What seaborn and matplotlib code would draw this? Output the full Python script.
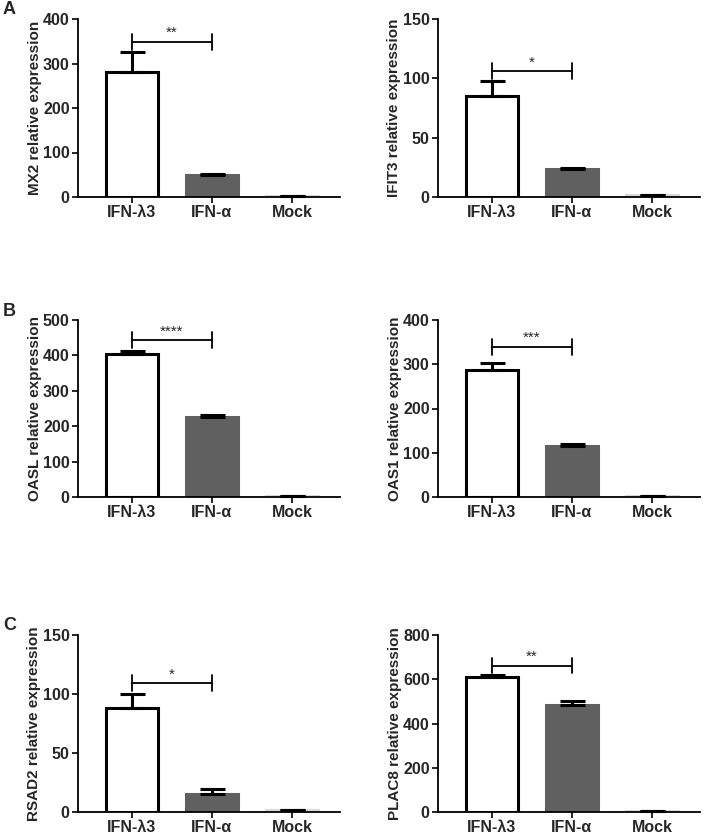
import matplotlib
matplotlib.use("Agg")
import pandas as pd
import seaborn as sns
from matplotlib import pyplot as plt

groups = ["IFN-λ3", "IFN-α", "Mock"]

mx2_mean = [280, 50, 2]
mx2_sem = [45, 2, 0.5]
ifit3_mean = [85, 23.5, 1.5]
ifit3_sem = [12.5, 1, 0.5]
oasl_mean = [405, 225, 2]
oasl_sem = [7, 6, 0.5]
oas1_mean = [288, 116, 2]
oas1_sem = [14, 3, 0.5]
rsad2_mean = [88, 15, 1.5]
rsad2_sem = [12, 4.5, 0.5]
plac8_mean = [612, 485, 3]
plac8_sem = [5, 15, 0.5]

genes = ["MX2", "IFIT3", "OASL", "OAS1", "RSAD2", "PLAC8"]
means = [mx2_mean, ifit3_mean, oasl_mean, oas1_mean, rsad2_mean, plac8_mean]
sems = [mx2_sem, ifit3_sem, oasl_sem, oas1_sem, rsad2_sem, plac8_sem]
y_max = [400, 150, 500, 400, 150, 800]
y_step = [100, 50, 100, 100, 50, 200]
bracket_y = [349, 106, 443, 340, 109, 662]
stars = ["**", "*", "****", "***", "*", "**"]
panel_letters = {0: "A", 2: "B", 4: "C"}

colors = ["white", "#606060", "#d9d9d9"]
edges = ["black", "#606060", "#d9d9d9"]

sns.set_style("ticks")
plt.rcParams["font.family"] = ["Liberation Sans", "DejaVu Sans"]
plt.rcParams["font.weight"] = "bold"

fig = plt.figure(figsize=(7.09, 8.36), dpi=100)

# axes boxes in pixels: left, top, right, bottom
W, H = 709, 836
cols = [(78, 340), (438, 700)]
rows = [(19, 197), (320, 497), (635, 812)]

for i, gene in enumerate(genes):
    x0, x1 = cols[i % 2]
    y0, y1 = rows[i // 2]
    ax = fig.add_axes([x0 / W, 1 - y1 / H, (x1 - x0) / W, (y1 - y0) / H])
    df = pd.DataFrame({"group": groups, "value": means[i]})
    sns.barplot(data=df, x="group", y="value", hue="group", order=groups,
                hue_order=groups, palette=colors, width=0.66, errorbar=None,
                legend=False, ax=ax)
    for patch, ec in zip(ax.patches, edges):
        patch.set_edgecolor(ec)
        patch.set_linewidth(2.2)
    ax.errorbar(range(3), means[i], yerr=[[0, 0, 0], sems[i]], fmt="none",
                ecolor="black", elinewidth=2.2, capsize=9, capthick=2.2,
                clip_on=False, zorder=5)
    # significance bracket
    by = bracket_y[i]
    tick = y_max[i] * 0.045
    ax.plot([0, 1], [by, by], color="black", lw=1.3, clip_on=False)
    ax.plot([0, 0], [by - tick, by + tick], color="black", lw=1.3, clip_on=False)
    ax.plot([1, 1], [by - tick, by + tick], color="black", lw=1.3, clip_on=False)
    ax.text(0.5, by + tick * 0.2, stars[i], ha="center", va="bottom",
            fontsize=11, fontweight="normal")

    ax.set_xlim(-0.675, 2.6)
    ax.set_ylim(0, y_max[i])
    ax.set_yticks(range(0, y_max[i] + 1, y_step[i]))
    ax.set_xlabel("")
    ax.set_ylabel(f"{gene} relative expression", fontsize=11,
                  fontweight="bold", labelpad=1)
    ax.tick_params(labelsize=11.5, width=1.2, length=4, color="black")
    ax.tick_params(axis="x", pad=1.5)
    ax.tick_params(axis="y", pad=2)
    for lab in ax.get_xticklabels() + ax.get_yticklabels():
        lab.set_fontweight("bold")
    sns.despine(ax=ax)
    for s in ["left", "bottom"]:
        ax.spines[s].set_linewidth(1.3)
        ax.spines[s].set_color("black")

    if i in panel_letters:
        fig.text(3 / W, 1 - (y0 - 9) / H, panel_letters[i], fontsize=13,
                 fontweight="bold", va="center")

fig.savefig("out.png", dpi=100)
